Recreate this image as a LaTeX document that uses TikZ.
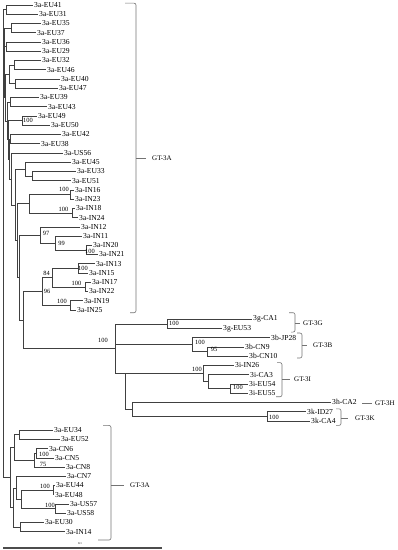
\documentclass[tikz,border=0pt]{standalone}
\usepackage{fontspec}
\setmainfont{Liberation Serif}
\tikzset{
  tip/.style={anchor=west,inner sep=1pt,font=\fontsize{7.6}{8}\selectfont},
  bs/.style={inner sep=0pt,font=\fontsize{6.4}{7}\selectfont},
  grp/.style={anchor=west,inner sep=0pt,font=\fontsize{7}{8}\selectfont},
  br/.style={draw=black!75,line width=0.5pt},
  brk/.style={draw=black!55,line width=0.6pt,rounded corners=2pt}
}
\begin{document}
\begin{tikzpicture}[x=1pt,y=-9.24pt]
\useasboundingbox (0,-0.541) rectangle (397,58.98);
\node[tip] (EU41) at (33,0) {3a-EU41};
\node[tip] (EU31) at (38,1) {3a-EU31};
\node[tip] (EU35) at (41,2) {3a-EU35};
\node[tip] (EU37) at (36,3) {3a-EU37};
\node[tip] (EU36) at (41,4) {3a-EU36};
\node[tip] (EU29) at (41,5) {3a-EU29};
\node[tip] (EU32) at (41,6) {3a-EU32};
\node[tip] (EU46) at (46,7) {3a-EU46};
\node[tip] (EU40) at (60,8) {3a-EU40};
\node[tip] (EU47) at (58,9) {3a-EU47};
\node[tip] (EU39) at (39,10) {3a-EU39};
\node[tip] (EU43) at (47,11) {3a-EU43};
\node[tip] (EU49) at (37,12) {3a-EU49};
\node[tip] (EU50) at (50,13) {3a-EU50};
\node[tip] (EU42) at (61,14) {3a-EU42};
\node[tip] (EU38) at (40,15) {3a-EU38};
\node[tip] (US56) at (63,16) {3a-US56};
\node[tip] (EU45) at (71,17) {3a-EU45};
\node[tip] (EU33) at (76,18) {3a-EU33};
\node[tip] (EU51) at (71,19) {3a-EU51};
\node[tip] (IN16) at (74,20) {3a-IN16};
\node[tip] (IN23) at (74,21) {3a-IN23};
\node[tip] (IN18) at (75,22) {3a-IN18};
\node[tip] (IN24) at (78,23) {3a-IN24};
\node[tip] (IN12) at (80,24) {3a-IN12};
\node[tip] (IN11) at (82,25) {3a-IN11};
\node[tip] (IN20) at (92,26) {3a-IN20};
\node[tip] (IN21) at (98,27) {3a-IN21};
\node[tip] (IN13) at (95,28) {3a-IN13};
\node[tip] (IN15) at (88,29) {3a-IN15};
\node[tip] (IN17) at (91,30) {3a-IN17};
\node[tip] (IN22) at (88,31) {3a-IN22};
\node[tip] (IN19) at (83,32) {3a-IN19};
\node[tip] (IN25) at (76,33) {3a-IN25};
\node[tip] (CA1) at (252,34) {3g-CA1};
\node[tip] (EU53) at (222,35) {3g-EU53};
\node[tip] (JP28) at (270,36) {3b-JP28};
\node[tip] (CN9) at (244,37) {3b-CN9};
\node[tip] (CN10) at (248,38) {3b-CN10};
\node[tip] (IN26) at (234,39) {3i-IN26};
\node[tip] (CA3) at (249,40) {3i-CA3};
\node[tip] (EU54) at (248,41) {3i-EU54};
\node[tip] (EU55) at (248,42) {3i-EU55};
\node[tip] (CA2) at (331,43) {3h-CA2};
\node[tip] (ID27) at (306,44) {3k-ID27};
\node[tip] (CA4) at (310,45) {3k-CA4};
\node[tip] (EU34) at (53,46) {3a-EU34};
\node[tip] (EU52) at (60,47) {3a-EU52};
\node[tip] (CN6) at (48,48) {3a-CN6};
\node[tip] (CN5) at (54,49) {3a-CN5};
\node[tip] (CN8) at (65,50) {3a-CN8};
\node[tip] (CN7) at (66,51) {3a-CN7};
\node[tip] (EU44) at (55,52) {3a-EU44};
\node[tip] (EU48) at (54,53) {3a-EU48};
\node[tip] (US57) at (69,54) {3a-US57};
\node[tip] (US58) at (66,55) {3a-US58};
\node[tip] (EU30) at (44,56) {3a-EU30};
\node[tip] (IN14) at (65,57) {3a-IN14};
\coordinate (n1) at (6,0.5);
\coordinate (n2) at (11,2.5);
\coordinate (n3) at (6,4.5);
\coordinate (n4) at (14,6.5);
\coordinate (n5) at (15,8.5);
\coordinate (n45) at (9,7.5);
\coordinate (n6) at (10,10.5);
\coordinate (n7) at (22,12.5);
\coordinate (n8) at (10,14.5);
\coordinate (n9) at (32,18.5);
\coordinate (n10) at (25,17.75);
\coordinate (n11) at (70,20.5);
\coordinate (n12) at (72,22.5);
\coordinate (n13) at (29,21.5);
\coordinate (n14) at (86,26.5);
\coordinate (n15) at (55,25.75);
\coordinate (n16) at (40,24.875);
\coordinate (n17) at (78,28.5);
\coordinate (n18) at (85,30.5);
\coordinate (n19) at (52,29.5);
\coordinate (n20) at (70,32.5);
\coordinate (n21) at (42,31);
\coordinate (g1) at (167,34.5);
\coordinate (g2) at (207,37.5);
\coordinate (g3) at (192,36.75);
\coordinate (i1) at (230,41.5);
\coordinate (i2) at (208,40.75);
\coordinate (i3) at (203,39.875);
\coordinate (k1) at (267,44.5);
\coordinate (h1) at (132,43.75);
\coordinate (D) at (125,39.875);
\coordinate (A) at (115,37.19);
\coordinate (Q) at (23,34.09);
\coordinate (P) at (19,29.48);
\coordinate (c9) at (17,25.49);
\coordinate (c8) at (15,21.62);
\coordinate (c7) at (11,18.81);
\coordinate (c6) at (9,16.66);
\coordinate (c5) at (8,14.58);
\coordinate (c4) at (7,12.54);
\coordinate (c3) at (5,10.02);
\coordinate (c2) at (4.5,7.26);
\coordinate (c1) at (4,4.88);
\coordinate (R) at (3,25);
\coordinate (m1) at (19,46.5);
\coordinate (m2) at (36,48.5);
\coordinate (m3) at (34,49.25);
\coordinate (m4) at (14,47.875);
\coordinate (m5) at (53,52.5);
\coordinate (m6) at (55,54.5);
\coordinate (m7) at (21,53.5);
\coordinate (m8) at (16,52.25);
\coordinate (m9) at (20,56.5);
\coordinate (m10) at (13,54.375);
\coordinate (m11) at (10,51.125);
\draw[br] (n1) |- (EU41.west) (n1) |- (EU31.west);
\draw[br] (n2) |- (EU35.west) (n2) |- (EU37.west);
\draw[br] (n3) |- (EU36.west) (n3) |- (EU29.west);
\draw[br] (n4) |- (EU32.west) (n4) |- (EU46.west);
\draw[br] (n5) |- (EU40.west) (n5) |- (EU47.west);
\draw[br] (n45) |- (n4) (n45) |- (n5);
\draw[br] (n6) |- (EU39.west) (n6) |- (EU43.west);
\draw[br] (n7) |- (EU49.west) (n7) |- (EU50.west);
\draw[br] (n8) |- (EU42.west) (n8) |- (EU38.west);
\draw[br] (n9) |- (EU33.west) (n9) |- (EU51.west);
\draw[br] (n10) |- (EU45.west) (n10) |- (n9);
\draw[br] (n11) |- (IN16.west) (n11) |- (IN23.west);
\draw[br] (n12) |- (IN18.west) (n12) |- (IN24.west);
\draw[br] (n13) |- (n11) (n13) |- (n12);
\draw[br] (n14) |- (IN20.west) (n14) |- (IN21.west);
\draw[br] (n15) |- (IN11.west) (n15) |- (n14);
\draw[br] (n16) |- (IN12.west) (n16) |- (n15);
\draw[br] (n17) |- (IN13.west) (n17) |- (IN15.west);
\draw[br] (n18) |- (IN17.west) (n18) |- (IN22.west);
\draw[br] (n19) |- (n17) (n19) |- (n18);
\draw[br] (n20) |- (IN19.west) (n20) |- (IN25.west);
\draw[br] (n21) |- (n19) (n21) |- (n20);
\draw[br] (R) |- (n1) (R) |- (c1) (R) |- (m11);
\draw[br] (c1) |- (n2) (c1) |- (c2);
\draw[br] (c2) |- (n3) (c2) |- (c3);
\draw[br] (c3) |- (n45) (c3) |- (c4);
\draw[br] (c4) |- (n6) (c4) |- (c5);
\draw[br] (c5) |- (n7) (c5) |- (c6);
\draw[br] (c6) |- (n8) (c6) |- (c7);
\draw[br] (c7) |- (US56.west) (c7) |- (c8);
\draw[br] (c8) |- (n10) (c8) |- (c9);
\draw[br] (c9) |- (n13) (c9) |- (P);
\draw[br] (P) |- (n16) (P) |- (Q);
\draw[br] (Q) |- (n21) (Q) |- (A);
\draw[br] (A) |- (g1) (A) |- (g3) (A) |- (i3);
\draw[br] (g1) |- (CA1.west) (g1) |- (EU53.west);
\draw[br] (g3) |- (JP28.west) (g3) |- (g2);
\draw[br] (g2) |- (CN9.west) (g2) |- (CN10.west);
\draw[br] (i3) |- (IN26.west) (i3) |- (i2);
\draw[br] (i2) |- (CA3.west) (i2) |- (i1);
\draw[br] (i1) |- (EU54.west) (i1) |- (EU55.west);
\draw[br] (D) |- (h1);
\draw[br] (h1) |- (CA2.west) (h1) |- (k1);
\draw[br] (k1) |- (ID27.west) (k1) |- (CA4.west);
\draw[br] (m11) |- (m4) (m11) |- (m10);
\draw[br] (m4) |- (m1) (m4) |- (m3);
\draw[br] (m1) |- (EU34.west) (m1) |- (EU52.west);
\draw[br] (m3) |- (m2) (m3) |- (CN8.west);
\draw[br] (m2) |- (CN6.west) (m2) |- (CN5.west);
\draw[br] (m10) |- (m8) (m10) |- (m9);
\draw[br] (m8) |- (CN7.west) (m8) |- (m7);
\draw[br] (m7) |- (m5) (m7) |- (m6);
\draw[br] (m5) |- (EU44.west) (m5) |- (EU48.west);
\draw[br] (m6) |- (US57.west) (m6) |- (US58.west);
\draw[br] (m9) |- (EU30.west) (m9) |- (IN14.west);
\node[bs] (bs1) at (28,12.45) {100};
\node[bs] (bs2) at (64,20.0) {100};
\node[bs] (bs3) at (63.5,22.1) {100};
\node[bs] (bs4) at (46,24.7) {97};
\node[bs] (bs5) at (61.5,25.8) {99};
\node[bs] (bs6) at (90,26.62) {100};
\node[bs] (bs7) at (83,28.5) {100};
\node[bs] (bs8) at (46.5,29.0) {84};
\node[bs] (bs9) at (76.5,30.1) {100};
\node[bs] (bs10) at (47,31.0) {96};
\node[bs] (bs11) at (62,32.1) {100};
\node[bs] (bs12) at (103,36.3) {100};
\node[bs] (bs13) at (174,34.5) {100};
\node[bs] (bs14) at (200,36.5) {100};
\node[bs] (bs15) at (214,37.3) {95};
\node[bs] (bs16) at (197,39.4) {100};
\node[bs] (bs17) at (238,41.4) {100};
\node[bs] (bs18) at (274,44.6) {100};
\node[bs] (bs19) at (44,48.6) {100};
\node[bs] (bs20) at (43,49.7) {75};
\node[bs] (bs21) at (45,52.1) {100};
\node[bs] (bs22) at (50,54.2) {100};
\draw[brk] (125,-0.2) -| (136,33.3) -- (130,33.3);
\draw[brk] (136,16.6) -- (146,16.6);
\node[grp] (gA1) at (152,16.6) {GT-3A};
\draw[brk] (289,33.3) -| (295,35.4) -- (291,35.4);
\draw[brk] (295,34.4) -- (300,34.4);
\node[grp] (gG) at (303,34.4) {GT-3G};
\draw[brk] (297,35.5) -| (302,38.2) -- (297,38.2);
\draw[brk] (302,36.8) -- (307,36.8);
\node[grp] (gB) at (313,36.8) {GT-3B};
\draw[brk] (277,38.7) -| (282,42.4) -- (276,42.4);
\draw[brk] (282,40.5) -- (290,40.5);
\node[grp] (gI) at (294,40.5) {GT-3I};
\draw[brk] (362,43.1) -- (372,43.1);
\node[grp] (gH) at (375,43.1) {GT-3H};
\draw[brk] (336,43.7) -| (341,45.5) -- (336,45.5);
\draw[brk] (341,44.7) -- (348,44.7);
\node[grp] (gK) at (355,44.7) {GT-3K};
\draw[brk] (103,45.5) -| (111,57.9) -- (98,57.9);
\draw[brk] (111,51.95) -- (124,51.95);
\node[grp] (gA2) at (130,51.95) {GT-3A};
\draw[line width=1.4pt,black!70] (3,58.77) -- (162,58.77);
\node[inner sep=0pt,font=\fontsize{3}{3}\selectfont] (sc) at (80,58.33) {0.1};
\end{tikzpicture}
\end{document}
